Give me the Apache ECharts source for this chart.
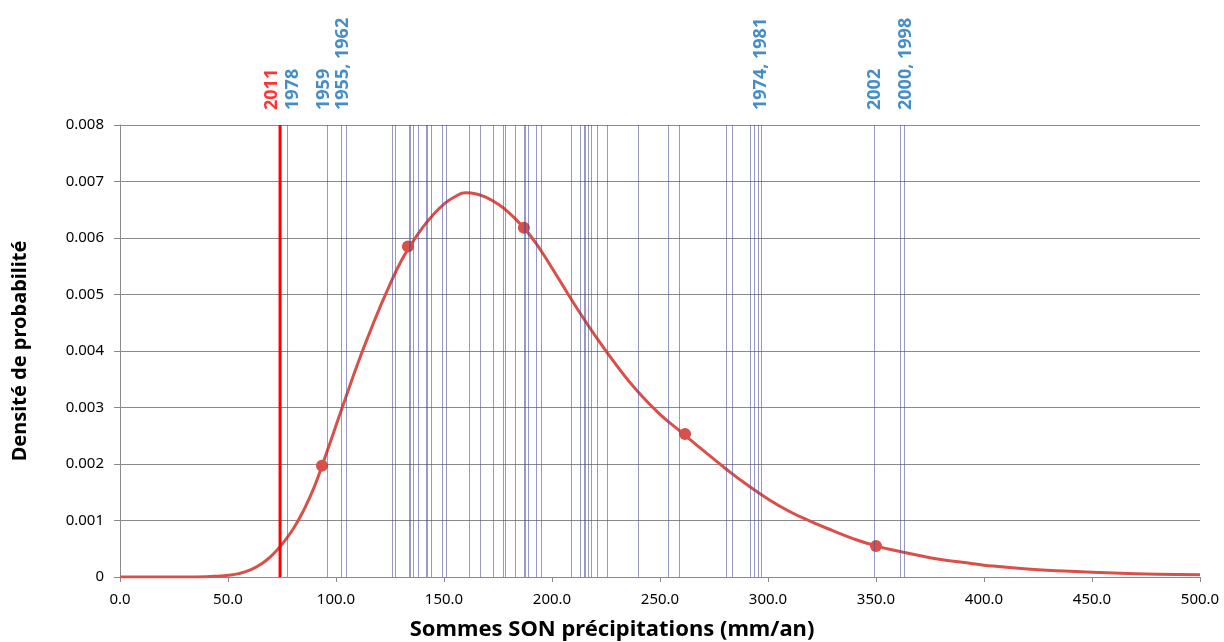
<!DOCTYPE html>
<html><head><meta charset="utf-8">
<script src="https://cdn.jsdelivr.net/npm/echarts@6/dist/echarts.min.js"></script>
<style>html,body{margin:0;padding:0;background:#fff}#c{width:1224px;height:642px}</style>
</head><body><div id="c"></div>
<script>
// Density curve
const curveX = [0, 10, 20, 30, 40, 45, 50, 55, 60, 65, 70, 75, 80, 85, 90, 95, 100, 105, 110, 115, 120, 125, 130, 135, 140, 145, 150, 155, 160, 165, 170, 175, 180, 185, 190, 195, 200, 210, 220, 230, 240, 250, 260, 270, 280, 290, 300, 310, 320, 330, 340, 350, 360, 370, 380, 390, 400, 420, 440, 460, 480, 500];
const curveY = [0, 0, 0, 0, 0.000005, 0.000015, 0.00003, 0.00006, 0.00012, 0.00022, 0.00037, 0.00058, 0.00084, 0.00118, 0.0016, 0.00213, 0.00268, 0.00323, 0.00377, 0.00427, 0.00474, 0.00518, 0.00558, 0.0059, 0.00618, 0.00641, 0.0066, 0.00673, 0.0068, 0.00678, 0.00671, 0.0066, 0.00645, 0.00626, 0.00604, 0.00577, 0.00547, 0.00485, 0.00427, 0.00374, 0.00327, 0.00288, 0.00256, 0.00224, 0.00193, 0.00164, 0.00138, 0.00116, 0.00098, 0.00082, 0.00067, 0.00055, 0.00046, 0.00038, 0.00031, 0.00026, 0.00021, 0.00014, 0.0001, 0.00007, 0.00005, 0.00004];
// Highlighted points
const markerX = [93.5, 133.3, 187.0, 261.6, 350.0];
const markerY = [0.00197, 0.00585, 0.00618, 0.00253, 0.00055];
// Observed yearly sums (vertical lines)
const obsX = [77.2, 95.8, 102.6, 104.8, 126.2, 127.2, 133.7, 134.3, 135.6, 138.1, 141.8, 142.4, 144.0, 149.2, 151.1, 161.7, 167.0, 172.8, 177.5, 178.4, 183.2, 187.2, 187.8, 189.0, 192.9, 194.9, 208.7, 213.0, 214.7, 215.3, 216.8, 218.1, 220.9, 225.8, 239.7, 253.6, 258.8, 280.9, 283.3, 292.0, 293.8, 295.7, 297.1, 349.2, 361.3, 363.0];
// 2011 value
const year2011X = 74.1;
// Year labels
const labelText = ['2011', '1978', '1959', '1955, 1962', '1974, 1981', '2002', '2000, 1998'];
const labelX = [70.4, 80.1, 94.3, 103.2, 296.5, 349.4, 363.7];
// Axis ranges
const xMin = 0, xMax = 500, xStep = 50;
const yMin = 0, yMax = 0.008, yStep = 0.001;

const chart = echarts.init(document.getElementById('c'));
const gridColor = '#8a8a8a';
const font = '"Noto Sans", "DejaVu Sans", sans-serif';

const curveData = curveX.map((x, i) => [x, curveY[i]]);
const markerData = markerX.map((x, i) => [x, markerY[i]]);
const labelData = labelX.map((x, i) => ({
  value: [x, yMax],
  label: { color: labelText[i] === '2011' ? '#FF0000' : '#1670B8', formatter: labelText[i] }
}));

chart.setOption({
  animation: false,
  backgroundColor: '#fff',
  grid: { left: 120, right: 24, top: 125, bottom: 65, containLabel: false, outerBoundsMode: 'none' },
  xAxis: {
    type: 'value', min: xMin, max: xMax, interval: xStep,
    name: 'Sommes SON précipitations (mm/an)', nameLocation: 'middle', nameGap: 42,
    nameTextStyle: { fontFamily: font, fontWeight: 'bold', fontSize: 22, color: '#000', padding: [0, 96, 0, 0] },
    axisLine: { show: true, onZero: false, lineStyle: { color: gridColor, width: 1 } },
    axisTick: { show: true, length: 5, lineStyle: { color: gridColor } },
    axisLabel: { fontFamily: font, fontSize: 15, color: '#000', margin: 15, formatter: v => v.toFixed(1) },
    splitLine: { show: false }
  },
  yAxis: {
    type: 'value', min: yMin, max: yMax, interval: yStep,
    name: 'Densité de probabilité', nameLocation: 'middle', nameGap: 90, nameRotate: 90,
    nameTextStyle: { fontFamily: font, fontWeight: 'bold', fontSize: 20, color: '#000' },
    axisLine: { show: true, lineStyle: { color: gridColor, width: 1 } },
    axisTick: { show: true, inside: false, length: 6, lineStyle: { color: gridColor } },
    axisLabel: { fontFamily: font, fontSize: 15, color: '#000', margin: 16, formatter: v => v === 0 ? '0' : v.toFixed(3) },
    splitLine: { show: true, lineStyle: { color: gridColor, width: 1 } }
  },
  series: [
    {
      type: 'line', data: [], z: 1, silent: true,
      markLine: {
        silent: true, symbol: ['none', 'none'], animation: false,
        label: { show: false },
        lineStyle: { color: 'rgba(70,70,150,0.55)', width: 1, type: 'solid' },
        data: obsX.map(x => [{ coord: [x, yMin] }, { coord: [x, yMax] }])
      }
    },
    {
      type: 'line', data: curveData, smooth: 0.5, showSymbol: false, z: 3,
      lineStyle: { color: '#D9504A', width: 3 }, itemStyle: { color: '#D9504A' }
    },
    {
      type: 'scatter', data: markerData, symbol: 'circle', symbolSize: 12, z: 4,
      itemStyle: { color: '#D9504A', opacity: 1 }
    },
    {
      type: 'line', data: [[year2011X, yMin], [year2011X, yMax]], z: 5, silent: true, showSymbol: false,
      lineStyle: { color: '#FF0000', width: 3 }, itemStyle: { color: '#FF0000' }
    },
    {
      type: 'scatter', data: labelData, symbolSize: 0, z: 6, silent: true,
      label: {
        show: true, position: 'top', distance: 15, rotate: 90, align: 'left', verticalAlign: 'middle',
        fontFamily: font, fontWeight: 'bold', fontSize: 18
      }
    }
  ]
});
</script>
</body></html>
